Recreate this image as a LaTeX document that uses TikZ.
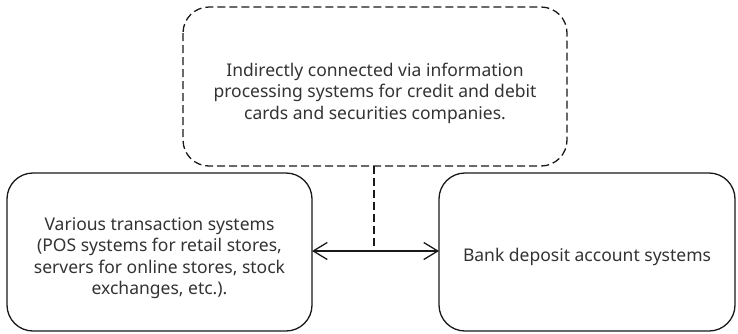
\documentclass[tikz,border=0pt]{standalone}
\usepackage{fontspec}
\setmainfont{Noto Sans}
\usetikzlibrary{arrows.meta}
\begin{document}
\begin{tikzpicture}[x=1pt,y=-1pt,
  txt/.style={font=\fontsize{17.5}{21.5}\selectfont, text=black!80, align=center},
  solidbox/.style={draw=black!90, line width=1.3pt, rounded corners=26pt},
  dashbox/.style={draw=black!90, line width=1.3pt, rounded corners=26pt, dash pattern=on 8pt off 4pt},
  link/.style={draw=black!90, line width=1.3pt},
  barb/.tip={Straight Barb[length=14pt, width=17pt, line width=1.3pt]}]
  \useasboundingbox (0,0) rectangle (738,333);
  % boxes
  \draw[dashbox] (183,7) rectangle (567,166);
  \node[txt] (note) at (375,93) {Indirectly connected via information\\processing systems for credit and debit\\cards and securities companies.};
  \draw[solidbox] (7,173) rectangle (312,331);
  \node[txt] (src) at (159.5,258) {Various transaction systems\\(POS systems for retail stores,\\servers for online stores, stock\\exchanges, etc.).};
  \draw[solidbox] (439,173) rectangle (735,331);
  \node[txt] (dst) at (587,257) {Bank deposit account systems};
  % anchors on the box outlines
  \coordinate (srcE) at (312,251);
  \coordinate (dstW) at (439,251);
  \coordinate (noteS) at (374,166);
  \coordinate (joint) at (374,249);
  \draw[link, barb-barb] (srcE) -- (dstW);
  \draw[link, dash pattern=on 8pt off 4pt] (noteS) -- (joint);
\end{tikzpicture}
\end{document}
